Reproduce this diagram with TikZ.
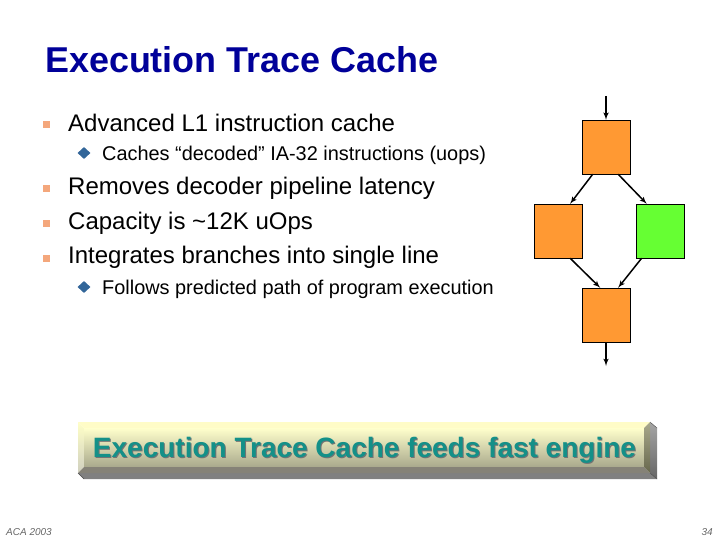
\documentclass[tikz,border=0pt]{standalone}
\usepackage{fontspec}
\setmainfont{Liberation Sans}
\usetikzlibrary{shapes.geometric,arrows}
\definecolor{boxorange}{HTML}{FF9933}
\definecolor{boxgreen}{HTML}{66FF33}
\definecolor{bulletred}{HTML}{F4A77C}
\definecolor{bulletblue}{HTML}{336699}
\definecolor{engineteal}{HTML}{149088}
\definecolor{headblue}{HTML}{000099}
\tikzset{
  block/.style={
    rectangle,
    minimum width=48pt,
    minimum height=54pt,
    inner sep=0pt,
    draw=black,
    fill=boxorange
    },
  arrow/.style={line width=1.5pt,->,>=latex'},
  title/.style={anchor=base west,inner sep=0pt,font=\fontsize{35.9}{38}\selectfont\bfseries,text=headblue},
  item/.style={anchor=base west,inner sep=0pt,font=\fontsize{24}{26}\selectfont},
  subitem/.style={anchor=base west,inner sep=0pt,font=\fontsize{19.9}{22}\selectfont},
  square/.style={rectangle,fill=bulletred,minimum size=7pt,inner sep=0pt},
  lozenge/.style={diamond,fill=bulletblue,minimum width=13pt,minimum height=12pt,inner sep=0pt},
  footer/.style={inner sep=0pt,font=\fontsize{10}{12}\selectfont\itshape,text=black!60},
  banner/.style={inner sep=0pt,font=\fontsize{28}{30}\selectfont\bfseries},
}
\begin{document}
\begin{tikzpicture}[x=1pt,y=-1pt]
  \useasboundingbox (0,0) rectangle (720,540);

  % title and bullets
  \node[title] (head) at (45,72.5) {Execution Trace Cache};
  \node[square] (b1) at (46,125) {};
  \node[item] (t1) at (68,131.5) {Advanced L1 instruction cache};
  \node[lozenge] (s1) at (84,153) {};
  \node[subitem] (u1) at (102,160.5) {Caches “decoded” IA-32 instructions (uops)};
  \node[square] (b2) at (46,189) {};
  \node[item] (t2) at (68,194.5) {Removes decoder pipeline latency};
  \node[square] (b3) at (46,224) {};
  \node[item] (t3) at (68,229.5) {Capacity is \textasciitilde12K uOps};
  \node[square] (b4) at (46,258) {};
  \node[item] (t4) at (68,263.5) {Integrates branches into single line};
  \node[lozenge] (s2) at (84,287) {};
  \node[subitem] (u2) at (102,294) {Follows predicted path of program execution};

  % flow of blocks
  \coordinate (in) at (606,96);
  \node[block] (top) at (606,147) {};
  \node[block] (left) at (558,231) {};
  \node[block,fill=boxgreen] (right) at (660,231) {};
  \node[block] (bottom) at (606,315) {};
  \coordinate (out) at (606,366);
  \draw[arrow] (in) -- (top);
  \draw[arrow] (top.-116) -- (left.66);
  \draw[arrow] (top.-66) -- (right.116);
  \draw[arrow] (left.-66) -- (bottom.102);
  \draw[arrow] (right.-124) -- (bottom.66);
  \draw[arrow] (bottom) -- (out);

  % banner
  \fill[black!50] (78,473) -- (84,479) -- (657,479) -- (650,473) -- cycle;
  \shade[top color=black!35,bottom color=black!60] (650,422) -- (657,428) -- (657,479) -- (650,473) -- cycle;
  \draw[black!70,thin] (78,473) -- (84,479) (650,422) -- (657,428) (650,473) -- (657,479);
  \shade[top color=yellow!22,bottom color=yellow!25!black!25] (78,422) -- (84,428) -- (84,467) -- (78,473) -- cycle;
  \fill[yellow!22] (78,422) -- (650,422) -- (644,428) -- (84,428) -- cycle;
  \shade[top color=yellow!20,bottom color=yellow!25!black!45] (84,428) rectangle (644,467);
  \fill[yellow!15!black!65] (78,473) -- (84,467) -- (644,467) -- (650,473) -- cycle;
  \shade[top color=yellow!25!black!45,bottom color=yellow!15!black!70] (650,422) -- (650,473) -- (644,467) -- (644,428) -- cycle;
  \node[banner,text=black!55] (engineback) at (365.5,451) {Execution Trace Cache feeds fast engine};
  \node[banner,text=engineteal] (engine) at (364.5,450) {Execution Trace Cache feeds fast engine};

  % footer
  \node[footer,anchor=base west] (aca) at (6,535) {ACA 2003};
  \node[footer,anchor=base east] (page) at (713,535) {34};
\end{tikzpicture}
\end{document}
